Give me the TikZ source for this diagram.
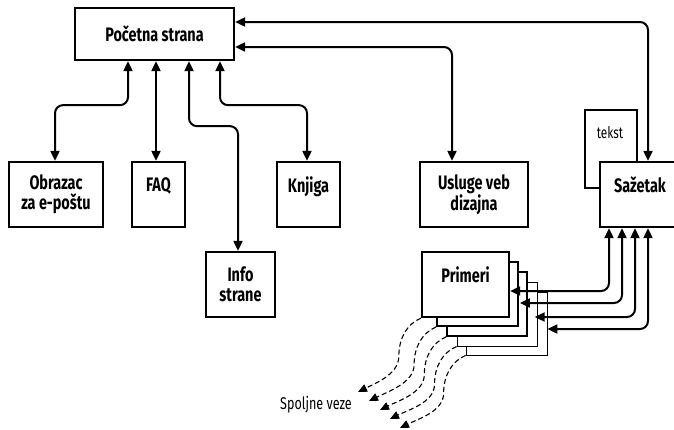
\documentclass[tikz,border=0pt]{standalone}
\usepackage{fontspec}
\setmainfont{Fira Sans}[FakeStretch=0.74]
\usetikzlibrary{arrows.meta,calc}
\begin{document}
\begin{tikzpicture}[x=1pt,y=-1pt,
  box/.style={draw, line width=2.3pt, fill=white, inner sep=1pt, align=center,
    font=\bfseries\fontsize{19.5}{20.5}\selectfont},
  stackbox/.style={draw, fill=white, inner sep=0pt},
  conn/.style={line width=2pt, rounded corners=8pt,
    {Triangle[length=10pt,width=9pt]}-{Triangle[length=10pt,width=9pt]}},
  dasharr/.style={line width=1.1pt, dash pattern=on 5pt off 3pt,
    -{Triangle[length=9pt,width=8pt]}},
  plain/.style={font=\fontsize{17}{19}\selectfont, inner sep=0pt}
]
\useasboundingbox (0,0) rectangle (674,429);
\clip (0,0) rectangle (674,429);

% boxes
\node[box, minimum width=159, minimum height=52] (pocetna) at (154.5,34) {Početna strana};
\node[box, minimum width=94, minimum height=65] (obr) at (56,194.5) {Obrazac\\za e-poštu};
\node[box, minimum width=53, minimum height=65] (faq) at (158.5,194.5) {FAQ\\\phantom{X}};
\node[box, minimum width=63, minimum height=65] (knjiga) at (308.5,194.5) {Knjiga\\\phantom{X}};
\node[box, minimum width=69, minimum height=65] (info) at (240.5,284.5) {Info\\strane};
\node[box, minimum width=108, minimum height=65] (usluge) at (474,194.5) {Usluge veb\\dizajna};

\node[box, minimum width=52, minimum height=78] (tekst) at (611,149) {};
\node[plain, font=\fontsize{16}{18}\selectfont] (tekstlbl) at (610,133) {tekst};
\node[box, minimum width=80, minimum height=65] (sazetak) at (640,194.5) {Sažetak\\\phantom{X}};

% stack of example pages
\node[stackbox, line width=0.8pt, minimum width=81, minimum height=63] (p5) at (506.5,323.5) {};
\node[stackbox, line width=1.0pt, minimum width=80, minimum height=64] (p4) at (497,314) {};
\node[stackbox, line width=1.4pt, minimum width=80, minimum height=64] (p3) at (487,304) {};
\node[stackbox, line width=1.8pt, minimum width=81, minimum height=64] (p2) at (477.5,294) {};
\node[box, minimum width=87, minimum height=65] (primeri) at (465.5,284.5) {Primeri\\\phantom{X}};

% connectors from the home page
\draw[conn] ($(pocetna.south)+(-26.5,0)$) -- ++(0,44) -| ($(obr.north)+(-1,0)$);
\draw[conn] ($(pocetna.south)+(1.5,0)$) -- ($(faq.north)+(-2.5,0)$);
\draw[conn] ($(pocetna.south)+(34.5,0)$) -- ++(0,65) -| ($(info.north)+(-2.5,0)$);
\draw[conn] ($(pocetna.south)+(65.5,0)$) -- ++(0,44) -| ($(knjiga.north)+(-1.5,0)$);
\draw[conn] ($(pocetna.east)+(0,13)$) -| ($(usluge.north)+(-22,0)$);
\draw[conn] ($(pocetna.east)+(0,-12)$) -| ($(sazetak.north)+(8,0)$);

% connectors from the summary to the examples
\draw[conn] ($(sazetak.south)+(-31,0)$) |- ($(primeri.east)+(0,6.5)$);
\draw[conn] ($(sazetak.south)+(-18,0)$) |- ($(p2.east)+(1,9)$);
\draw[conn] ($(sazetak.south)+(-5,0)$) |- ($(p3.east)+(7,13)$);
\draw[conn] ($(sazetak.south)+(8,0)$) |- ($(p5.east)+(0,5.5)$);

% external links
\coordinate (e1) at (358,392);
\coordinate (e2) at (369,401);
\coordinate (e3) at (380,410);
\coordinate (e4) at (390,419);
\coordinate (e5) at (400,428);
\draw[dasharr] (primeri.south west) .. controls +(-14,6) and +(0,-18) .. ++(-22,38) .. controls +(0,18) and +(18,-9) .. (e1);
\draw[dasharr] (p2.south west) .. controls +(-14,6) and +(0,-18) .. ++(-22,38) .. controls +(0,18) and +(18,-9) .. (e2);
\draw[dasharr] (p3.south west) .. controls +(-14,6) and +(0,-18) .. ++(-22,38) .. controls +(0,18) and +(18,-9) .. (e3);
\draw[dasharr] (p4.south west) .. controls +(-14,6) and +(0,-18) .. ++(-22,38) .. controls +(0,18) and +(18,-9) .. (e4);
\draw[dasharr] (p5.south west) .. controls +(-14,6) and +(0,-18) .. ++(-22,38) .. controls +(0,18) and +(18,-9) .. (e5);

\node[plain] (spolj) at (316,405) {Spoljne veze};
\end{tikzpicture}
\end{document}
